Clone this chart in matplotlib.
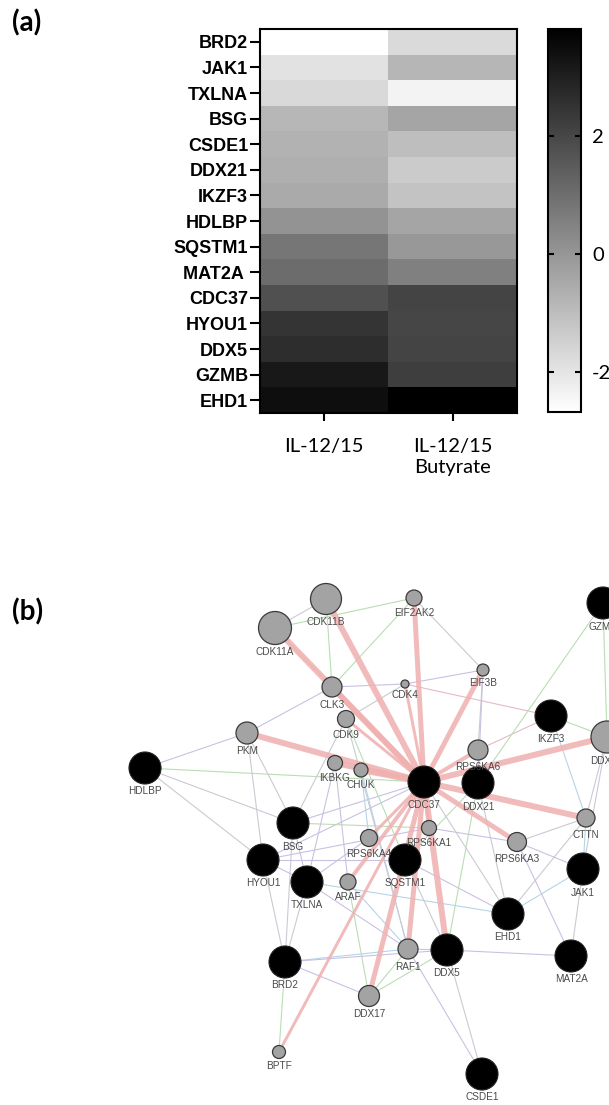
import numpy as np
import matplotlib.pyplot as plt
from matplotlib.patches import Circle

# ---- panel (a) data: heatmap z-scores ----
genes = ["BRD2", "JAK1", "TXLNA", "BSG", "CSDE1", "DDX21", "IKZF3", "HDLBP",
         "SQSTM1", "MAT2A ", "CDC37", "HYOU1", "DDX5", "GZMB", "EHD1"]
il1215 = [-2.68, -1.94, -1.69, -0.84, -0.72, -0.64, -0.51, 0.07,
          0.81, 1.07, 1.78, 2.49, 2.67, 3.18, 3.44]
il1215_but = [-1.74, -0.82, -2.37, -0.39, -1.02, -1.35, -1.15, -0.39,
              -0.05, 0.56, 2.09, 2.04, 2.09, 2.24, 3.82]
conditions = ["IL-12/15", "IL-12/15\nButyrate"]
cbar_ticks = [-2, 0, 2]

# ---- panel (b) data: network ----
query_genes = ["GZMB", "IKZF3", "HDLBP", "CDC37", "DDX21", "BSG", "SQSTM1",
               "HYOU1", "TXLNA", "JAK1", "EHD1", "DDX5", "MAT2A", "BRD2", "CSDE1"]
interactors = ["CDK11A", "CDK11B", "EIF2AK2", "EIF3B", "CDK4", "CLK3", "CDK9",
               "DDX3X", "PKM", "IKBKG", "CHUK", "RPS6KA6", "CTTN", "RPS6KA1",
               "RPS6KA4", "RPS6KA3", "ARAF", "RAF1", "DDX17", "BPTF"]
# strong edges from CDC37 (edge weight)
hub_edges = [("CDK11A", 6), ("CDK11B", 6), ("EIF2AK2", 5), ("EIF3B", 5),
             ("CLK3", 5), ("PKM", 6), ("IKBKG", 6), ("CHUK", 6), ("CDK9", 3),
             ("CDK4", 3), ("RPS6KA6", 4), ("DDX3X", 6), ("CTTN", 6),
             ("RPS6KA3", 5), ("RPS6KA1", 3), ("RPS6KA4", 3), ("ARAF", 4),
             ("RAF1", 5), ("DDX5", 6), ("DDX17", 5), ("BPTF", 3)]
# other interactions (kind of evidence)
thin_edges = [
    ("HDLBP", "PKM", "p"), ("HDLBP", "CDC37", "g"), ("HDLBP", "HYOU1", "k"),
    ("PKM", "CLK3", "p"), ("PKM", "HYOU1", "k"), ("PKM", "BSG", "k"),
    ("CDK11A", "CDK11B", "k"), ("CDK11A", "CLK3", "g"), ("CDK11B", "CLK3", "g"),
    ("CDK11A", "EIF2AK2", "g"), ("EIF2AK2", "EIF3B", "k"), ("EIF2AK2", "CLK3", "g"),
    ("CLK3", "CDK4", "p"), ("CDK4", "EIF3B", "p"), ("CDK4", "IKZF3", "r"),
    ("CDK4", "CDK9", "k"), ("EIF3B", "RPS6KA6", "k"), ("EIF3B", "DDX21", "p"),
    ("IKZF3", "RPS6KA6", "r"), ("IKZF3", "DDX3X", "g"), ("GZMB", "DDX3X", "g"),
    ("GZMB", "DDX21", "g"), ("DDX3X", "CTTN", "k"), ("DDX3X", "JAK1", "k"),
    ("CTTN", "JAK1", "b"), ("CTTN", "EHD1", "k"), ("CTTN", "RPS6KA3", "k"),
    ("IKZF3", "CTTN", "b"), ("JAK1", "MAT2A", "k"), ("JAK1", "RPS6KA3", "p"),
    ("JAK1", "EHD1", "b"), ("RPS6KA3", "MAT2A", "p"), ("RPS6KA3", "RPS6KA1", "p"),
    ("DDX5", "MAT2A", "p"), ("DDX5", "CSDE1", "k"), ("RAF1", "CSDE1", "p"),
    ("RAF1", "DDX5", "p"), ("RAF1", "BRD2", "b"), ("BRD2", "DDX5", "p"),
    ("BRD2", "DDX17", "p"), ("BRD2", "BPTF", "g"), ("BRD2", "HYOU1", "k"),
    ("BRD2", "TXLNA", "k"), ("BRD2", "BSG", "k"), ("TXLNA", "HYOU1", "p"),
    ("TXLNA", "BSG", "p"), ("TXLNA", "EHD1", "b"), ("TXLNA", "RAF1", "p"),
    ("HYOU1", "SQSTM1", "p"), ("HYOU1", "CDC37", "p"), ("HYOU1", "RPS6KA1", "p"),
    ("BSG", "CDC37", "p"), ("BSG", "RPS6KA1", "g"), ("BSG", "CDK9", "k"),
    ("ARAF", "DDX17", "g"), ("ARAF", "RAF1", "b"), ("ARAF", "IKBKG", "p"),
    ("IKBKG", "CHUK", "p"), ("IKBKG", "TXLNA", "p"), ("CHUK", "RAF1", "b"),
    ("CDK9", "RAF1", "k"), ("CDK9", "SQSTM1", "g"), ("SQSTM1", "EHD1", "p"),
    ("SQSTM1", "DDX5", "k"), ("SQSTM1", "DDX21", "g"), ("DDX21", "DDX5", "g"),
    ("DDX21", "EHD1", "k"), ("DDX21", "RPS6KA6", "p"), ("DDX17", "RAF1", "g"),
    ("DDX17", "DDX5", "g"), ("RPS6KA4", "CHUK", "b"), ("RPS6KA4", "TXLNA", "p"),
    ("CDC37", "EHD1", "k"), ("HDLBP", "BSG", "k"),
]

# layout of the network (pixel positions in the figure) and node radii
node_pos = {
    "CDK11A": (275, 628), "CDK11B": (326, 599), "EIF2AK2": (414, 598),
    "GZMB": (603, 603), "EIF3B": (483, 670), "CDK4": (405, 684),
    "CLK3": (332, 687), "CDK9": (346, 719), "IKZF3": (551, 716),
    "DDX3X": (607, 737), "PKM": (247, 733), "HDLBP": (145, 768),
    "IKBKG": (335, 763), "CHUK": (361, 770), "RPS6KA6": (478, 750),
    "CDC37": (424, 782), "DDX21": (478, 783), "CTTN": (586, 818),
    "BSG": (293, 823), "RPS6KA1": (429, 828), "RPS6KA4": (369, 838),
    "RPS6KA3": (517, 842), "SQSTM1": (405, 860), "HYOU1": (263, 860),
    "TXLNA": (307, 882), "ARAF": (348, 882), "JAK1": (583, 869),
    "EHD1": (508, 914), "RAF1": (408, 949), "DDX5": (447, 950),
    "MAT2A": (571, 956), "BRD2": (285, 962), "DDX17": (369, 996),
    "BPTF": (279, 1052), "CSDE1": (482, 1074),
}
node_r = {"CDK11A": 16.5, "CDK11B": 15.5, "EIF2AK2": 8, "EIF3B": 6, "CDK4": 4,
          "CLK3": 10, "CDK9": 8.5, "DDX3X": 16, "PKM": 11, "IKBKG": 7.5,
          "CHUK": 7, "RPS6KA6": 10, "CTTN": 9, "RPS6KA1": 7.5, "RPS6KA4": 8.5,
          "RPS6KA3": 9.5, "ARAF": 8, "RAF1": 10, "DDX17": 10.5, "BPTF": 6.5}
edge_colors = {"p": "#c9c1e2", "g": "#b9deb3", "b": "#b5d5e8", "k": "#cacad4", "r": "#e6b9c9"}

W, H = 609, 1105
fig = plt.figure(figsize=(W / 100, H / 100), dpi=100)

# background axes in pixel coordinates for the network
net = fig.add_axes([0, 0, 1, 1])
net.set_xlim(0, W)
net.set_ylim(H, 0)
net.axis("off")

for a, b, kind in thin_edges:
    (x1, y1), (x2, y2) = node_pos[a], node_pos[b]
    net.plot([x1, x2], [y1, y2], color=edge_colors[kind], lw=0.8, zorder=1)

cx, cy = node_pos["CDC37"]
for g, w in hub_edges:
    x2, y2 = node_pos[g]
    net.plot([cx, x2], [cy, y2], color="#f0b0b0", lw=w * 0.72, alpha=0.85,
             solid_capstyle="butt", zorder=2)

for g in query_genes + interactors:
    x, y = node_pos[g]
    if g in query_genes:
        r = 16
        net.add_patch(Circle((x, y), r, facecolor="black", edgecolor="#222222",
                             lw=0.8, zorder=3))
    else:
        r = node_r[g]
        net.add_patch(Circle((x, y), r, facecolor="#a3a3a3", edgecolor="#3a3a3a",
                             lw=0.9, zorder=3))
    net.text(x, y + r + 7.5, g, ha="center", va="center", fontsize=7.2,
             family="Liberation Sans", color="#4a4a4a", zorder=4)

net.text(12, 23, "(a)", fontsize=20, fontweight="bold", family="Lato", va="center")
net.text(12, 612, "(b)", fontsize=20, fontweight="bold", family="Lato", va="center")

# ---- heatmap ----
ax = fig.add_axes([260 / W, 1 - 413 / H, 257 / W, 384 / H])
data = np.column_stack([il1215, il1215_but])
im = ax.imshow(data, cmap="gray_r", vmin=data.min(), vmax=data.max(),
               aspect="auto", interpolation="nearest")
ax.set_yticks(range(len(genes)))
ax.set_yticklabels(genes, fontsize=13, fontweight="bold", family="Liberation Sans")
ax.set_xticks(range(len(conditions)))
ax.set_xticklabels(conditions, fontsize=14.5, family="Lato", linespacing=1.3)
ax.tick_params(axis="y", length=7, width=1.5, pad=1.5)
ax.tick_params(axis="x", length=6, width=1.5, pad=12)
for s in ax.spines.values():
    s.set_linewidth(1.5)

cax = fig.add_axes([548 / W, 1 - 412 / H, 33 / W, 383 / H])
cb = fig.colorbar(im, cax=cax)
cb.outline.set_linewidth(1.5)
cb.set_ticks(cbar_ticks)
cb.set_ticklabels([str(t) for t in cbar_ticks])
cax.tick_params(direction="in", length=4, width=1.5, left=True, right=True,
                labelright=True, pad=8, labelsize=14.5)
for lab in cax.get_yticklabels():
    lab.set_family("Lato")

fig.savefig("out.png", dpi=100)
